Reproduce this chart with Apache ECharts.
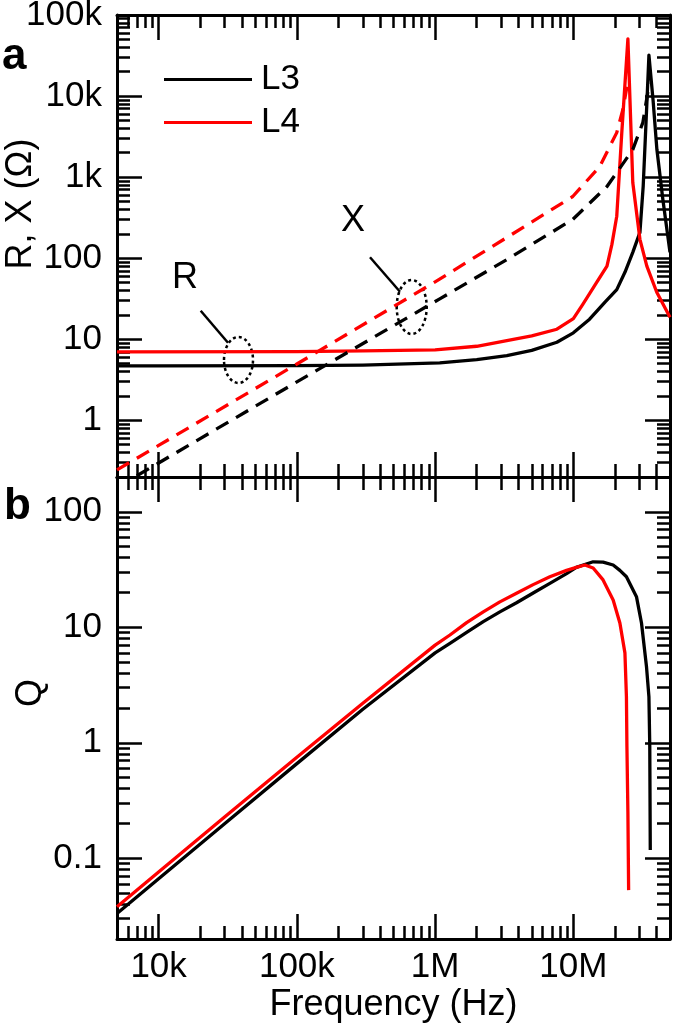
<!DOCTYPE html>
<html>
<head>
<meta charset="utf-8">
<script src="https://cdn.jsdelivr.net/npm/echarts@6/dist/echarts.min.js"></script>
<style>
html,body{margin:0;padding:0;background:#ffffff;}
#c{width:675px;height:1029px;}
</style>
</head>
<body>
<div id="c"></div>
<script>
// ---------------- data (frequency in Hz, value) ----------------
const L3_R = [[5e3,4.7],[1e4,4.7],[1e5,4.72],[3e5,4.8],[1.08e6,5.1],[2e6,5.6],[3.3e6,6.3],[5e6,7.3],[7.6e6,9.2],[1e7,12],[1.31e7,17.7],[1.7e7,29],[2.06e7,41],[2.36e7,67],[2.69e7,118],[3.03e7,208],[3.2e7,773],[3.41e7,9000],[3.52e7,32000],[3.77e7,9000],[4.02e7,2190],[4.44e7,530],[5e7,118]];
const L4_R = [[5e3,7.0],[1e5,7.05],[3e5,7.2],[1e6,7.4],[2e6,8.2],[3.3e6,9.6],[5e6,11.0],[7.6e6,13.3],[1e7,18],[1.17e7,27],[1.47e7,50],[1.75e7,80],[1.9e7,148],[2.06e7,330],[2.24e7,3540],[2.48e7,50700],[2.69e7,860],[3.03e7,171],[3.4e7,80],[4.01e7,38],[5e7,18.7]];
const L3_X = [[5e3,0.149],[1e4,0.298],[1e5,2.98],[1.08e6,31.5],[3.3e6,96],[9.9e6,301],[1.75e7,766],[2.69e7,2185],[3.18e7,4700],[3.45e7,11000],[3.5e7,14600]];
const L4_X = [[5e3,0.245],[1e4,0.49],[1e5,4.95],[1e6,51],[3.3e6,180],[9.9e6,577],[1.55e7,1350],[2.06e7,3540],[2.28e7,6780],[2.44e7,13000]];
const L3_Q = [[5e3,0.0333],[1e4,0.0665],[3e4,0.199],[1e5,0.66],[3e5,1.95],[1e6,6.0],[1.28e6,7.26],[1.69e6,9.04],[2.23e6,11.2],[2.94e6,13.6],[3.88e6,16.3],[5.12e6,19.8],[6.76e6,24.0],[8.93e6,29.1],[1.05e7,33.0],[1.39e7,36.9],[1.64e7,36.7],[1.94e7,34.6],[2.17e7,31.1],[2.42e7,27.4],[2.86e7,18.4],[3.11e7,10.9],[3.38e7,4.56],[3.52e7,2.5],[3.57e7,0.93],[3.6e7,0.118]];
const L4_Q = [[5e3,0.038],[1e4,0.076],[3e4,0.228],[1e5,0.75],[3e5,2.2],[1e6,7.0],[1.28e6,8.57],[1.69e6,10.96],[2.23e6,13.6],[2.94e6,16.6],[3.88e6,19.7],[5.12e6,23.4],[6.76e6,27.4],[8.93e6,31.1],[1.05e7,33.0],[1.21e7,34.6],[1.39e7,32.6],[1.64e7,25.7],[1.94e7,17.2],[2.17e7,10.9],[2.36e7,6.0],[2.42e7,2.5],[2.44e7,0.93],[2.48e7,0.25],[2.51e7,0.053]];

// ---------------- axis ticks / labels ----------------
const X_RANGE = [5e3, 5e7];
const X_TICKS = [1e4, 1e5, 1e6, 1e7];
const X_LABELS = ['10k', '100k', '1M', '10M'];
const YA_RANGE = [0.2, 1e5];
const YA_TICKS = [1, 10, 100, 1e3, 1e4, 1e5];
const YA_LABELS = ['1', '10', '100', '1k', '10k', '100k'];
const YB_RANGE = [0.02, 200];
const YB_TICKS = [0.1, 1, 10, 100];
const YB_LABELS = ['0.1', '1', '10', '100'];
const SERIES_NAMES = ['L3', 'L4'];
const SERIES_COLORS = ['#000000', '#ff0000'];

// ---------------- helpers ----------------
const FONT = 'Liberation Sans, Arial, sans-serif';
function minorTicks(range) {
  const out = [];
  for (let e = -4; e <= 9; e++) {
    for (let k = 2; k <= 9; k++) {
      const v = +(k * Math.pow(10, e)).toPrecision(8);
      if (v > range[0] * 1.0001 && v < range[1] * 0.9999) out.push(v);
    }
  }
  return out;
}
function lookup(ticks, labels) {
  return function (v) {
    for (let i = 0; i < ticks.length; i++) {
      if (Math.abs(Math.log10(ticks[i]) - Math.log10(v)) < 1e-6) return labels[i];
    }
    return '';
  };
}
const MAJOR_LEN = 25, MINOR_LEN = 13;
function axis(grid, pos, range, ticks, len, withLine, label) {
  const a = {
    type: 'log', logBase: 10, gridIndex: grid, position: pos,
    min: range[0], max: range[1],
    axisLine: { show: withLine, onZero: false, lineStyle: { color: '#000', width: 3 } },
    axisTick: { show: true, inside: true, length: len, customValues: ticks,
                lineStyle: { color: '#000', width: 2.5 } },
    axisLabel: { show: false },
    splitLine: { show: false },
    minorTick: { show: false },
    minorSplitLine: { show: false },
    axisPointer: { show: false },
    silent: true
  };
  if (label) {
    a.axisLabel = Object.assign({
      show: true, customValues: label.ticks, formatter: lookup(label.ticks, label.labels),
      color: '#000', fontFamily: FONT, fontSize: 35
    }, label.extra || {});
  }
  return a;
}

const xMinor = minorTicks(X_RANGE);
const yaMinor = minorTicks(YA_RANGE);
const ybMinor = minorTicks(YB_RANGE);

const xAxes = [
  axis(0, 'bottom', X_RANGE, X_TICKS, MAJOR_LEN, true),
  axis(0, 'bottom', X_RANGE, xMinor, MINOR_LEN, false),
  axis(0, 'top', X_RANGE, X_TICKS, MAJOR_LEN, true),
  axis(0, 'top', X_RANGE, xMinor, MINOR_LEN, false),
  axis(1, 'bottom', X_RANGE, X_TICKS, MAJOR_LEN, true,
       { ticks: X_TICKS, labels: X_LABELS, extra: { margin: 11 } }),
  axis(1, 'bottom', X_RANGE, xMinor, MINOR_LEN, false),
  axis(1, 'top', X_RANGE, X_TICKS, MAJOR_LEN, true),
  axis(1, 'top', X_RANGE, xMinor, MINOR_LEN, false)
];
xAxes[4].name = 'Frequency (Hz)';
xAxes[4].nameLocation = 'middle';
xAxes[4].nameGap = 48;
xAxes[4].nameTextStyle = { color: '#000', fontFamily: FONT, fontSize: 36 };

const yAxes = [
  axis(0, 'left', YA_RANGE, YA_TICKS, MAJOR_LEN, true,
       { ticks: YA_TICKS, labels: YA_LABELS, extra: { margin: 15 } }),
  axis(0, 'left', YA_RANGE, yaMinor, MINOR_LEN, false),
  axis(0, 'right', YA_RANGE, YA_TICKS, MAJOR_LEN, true),
  axis(0, 'right', YA_RANGE, yaMinor, MINOR_LEN, false),
  axis(1, 'left', YB_RANGE, YB_TICKS, MAJOR_LEN, true,
       { ticks: YB_TICKS, labels: YB_LABELS, extra: { margin: 15 } }),
  axis(1, 'left', YB_RANGE, ybMinor, MINOR_LEN, false),
  axis(1, 'right', YB_RANGE, YB_TICKS, MAJOR_LEN, true),
  axis(1, 'right', YB_RANGE, ybMinor, MINOR_LEN, false)
];

function line(name, data, xi, yi, color, dashed) {
  return {
    name: name, type: 'line', xAxisIndex: xi, yAxisIndex: yi, data: data,
    symbol: 'none', showSymbol: false, smooth: false, clip: true, silent: true,
    itemStyle: { color: color },
    lineStyle: { color: color, width: 3.3, type: dashed ? [14, 9] : 'solid', join: 'round', cap: 'butt' },
    emphasis: { disabled: true },
    animation: false
  };
}

const series = [
  line(SERIES_NAMES[0], L3_R, 0, 0, SERIES_COLORS[0], false),
  line(SERIES_NAMES[1], L4_R, 0, 0, SERIES_COLORS[1], false),
  line(SERIES_NAMES[0], L3_X, 0, 0, SERIES_COLORS[0], true),
  line(SERIES_NAMES[1], L4_X, 0, 0, SERIES_COLORS[1], true),
  line(SERIES_NAMES[0], L3_Q, 4, 4, SERIES_COLORS[0], false),
  line(SERIES_NAMES[1], L4_Q, 4, 4, SERIES_COLORS[1], false)
];

const chart = echarts.init(document.getElementById('c'), null, { renderer: 'canvas', width: 675, height: 1029 });
chart.setOption({
  backgroundColor: '#ffffff',
  animation: false,
  grid: [
    { left: 117, top: 15, width: 553, height: 462, containLabel: false, outerBoundsMode: 'none' },
    { left: 117, top: 477, width: 553, height: 462, containLabel: false, outerBoundsMode: 'none' }
  ],
  xAxis: xAxes,
  yAxis: yAxes,
  legend: {
    data: SERIES_NAMES.map(function (n, i) { return { name: n, icon: 'rect', itemStyle: { color: SERIES_COLORS[i] } }; }),
    orient: 'vertical', left: 159, top: 57,
    itemWidth: 88, itemHeight: 3, itemGap: 8, selectedMode: false,
    textStyle: { color: '#000', fontFamily: FONT, fontSize: 35, padding: [0, 0, 0, 4] }
  },
  series: series,
  graphic: [
    { type: 'text', x: 2, y: 57, style: { text: 'a', font: 'bold 44px ' + FONT, fill: '#000', textAlign: 'left', textVerticalAlign: 'middle' } },
    { type: 'text', x: 4, y: 507, style: { text: 'b', font: 'bold 44px ' + FONT, fill: '#000', textAlign: 'left', textVerticalAlign: 'middle' } },
    { type: 'text', x: 21, y: 204, rotation: Math.PI / 2, style: { text: 'R, X (\u03A9)', font: '36px ' + FONT, fill: '#000', textAlign: 'center', textVerticalAlign: 'middle' } },
    { type: 'text', x: 31, y: 693, rotation: Math.PI / 2, style: { text: 'Q', font: '36px ' + FONT, fill: '#000', textAlign: 'center', textVerticalAlign: 'middle' } },
    { type: 'text', x: 185, y: 278, style: { text: 'R', font: '36px ' + FONT, fill: '#000', textAlign: 'center', textVerticalAlign: 'middle' } },
    { type: 'line', shape: { x1: 200.7, y1: 310.7, x2: 228, y2: 342.7 }, style: { stroke: '#000', lineWidth: 2.5 } },
    { type: 'ellipse', shape: { cx: 238.5, cy: 360, rx: 14.5, ry: 23 }, style: { fill: 'none', stroke: '#000', lineWidth: 2.5, lineDash: [3, 3] } },
    { type: 'text', x: 353, y: 221, style: { text: 'X', font: '36px ' + FONT, fill: '#000', textAlign: 'center', textVerticalAlign: 'middle' } },
    { type: 'line', shape: { x1: 370, y1: 257.3, x2: 400, y2: 291.7 }, style: { stroke: '#000', lineWidth: 2.5 } },
    { type: 'ellipse', shape: { cx: 411.7, cy: 307, rx: 15, ry: 27 }, style: { fill: 'none', stroke: '#000', lineWidth: 2.5, lineDash: [3, 3] } }
  ]
});
</script>
</body>
</html>
